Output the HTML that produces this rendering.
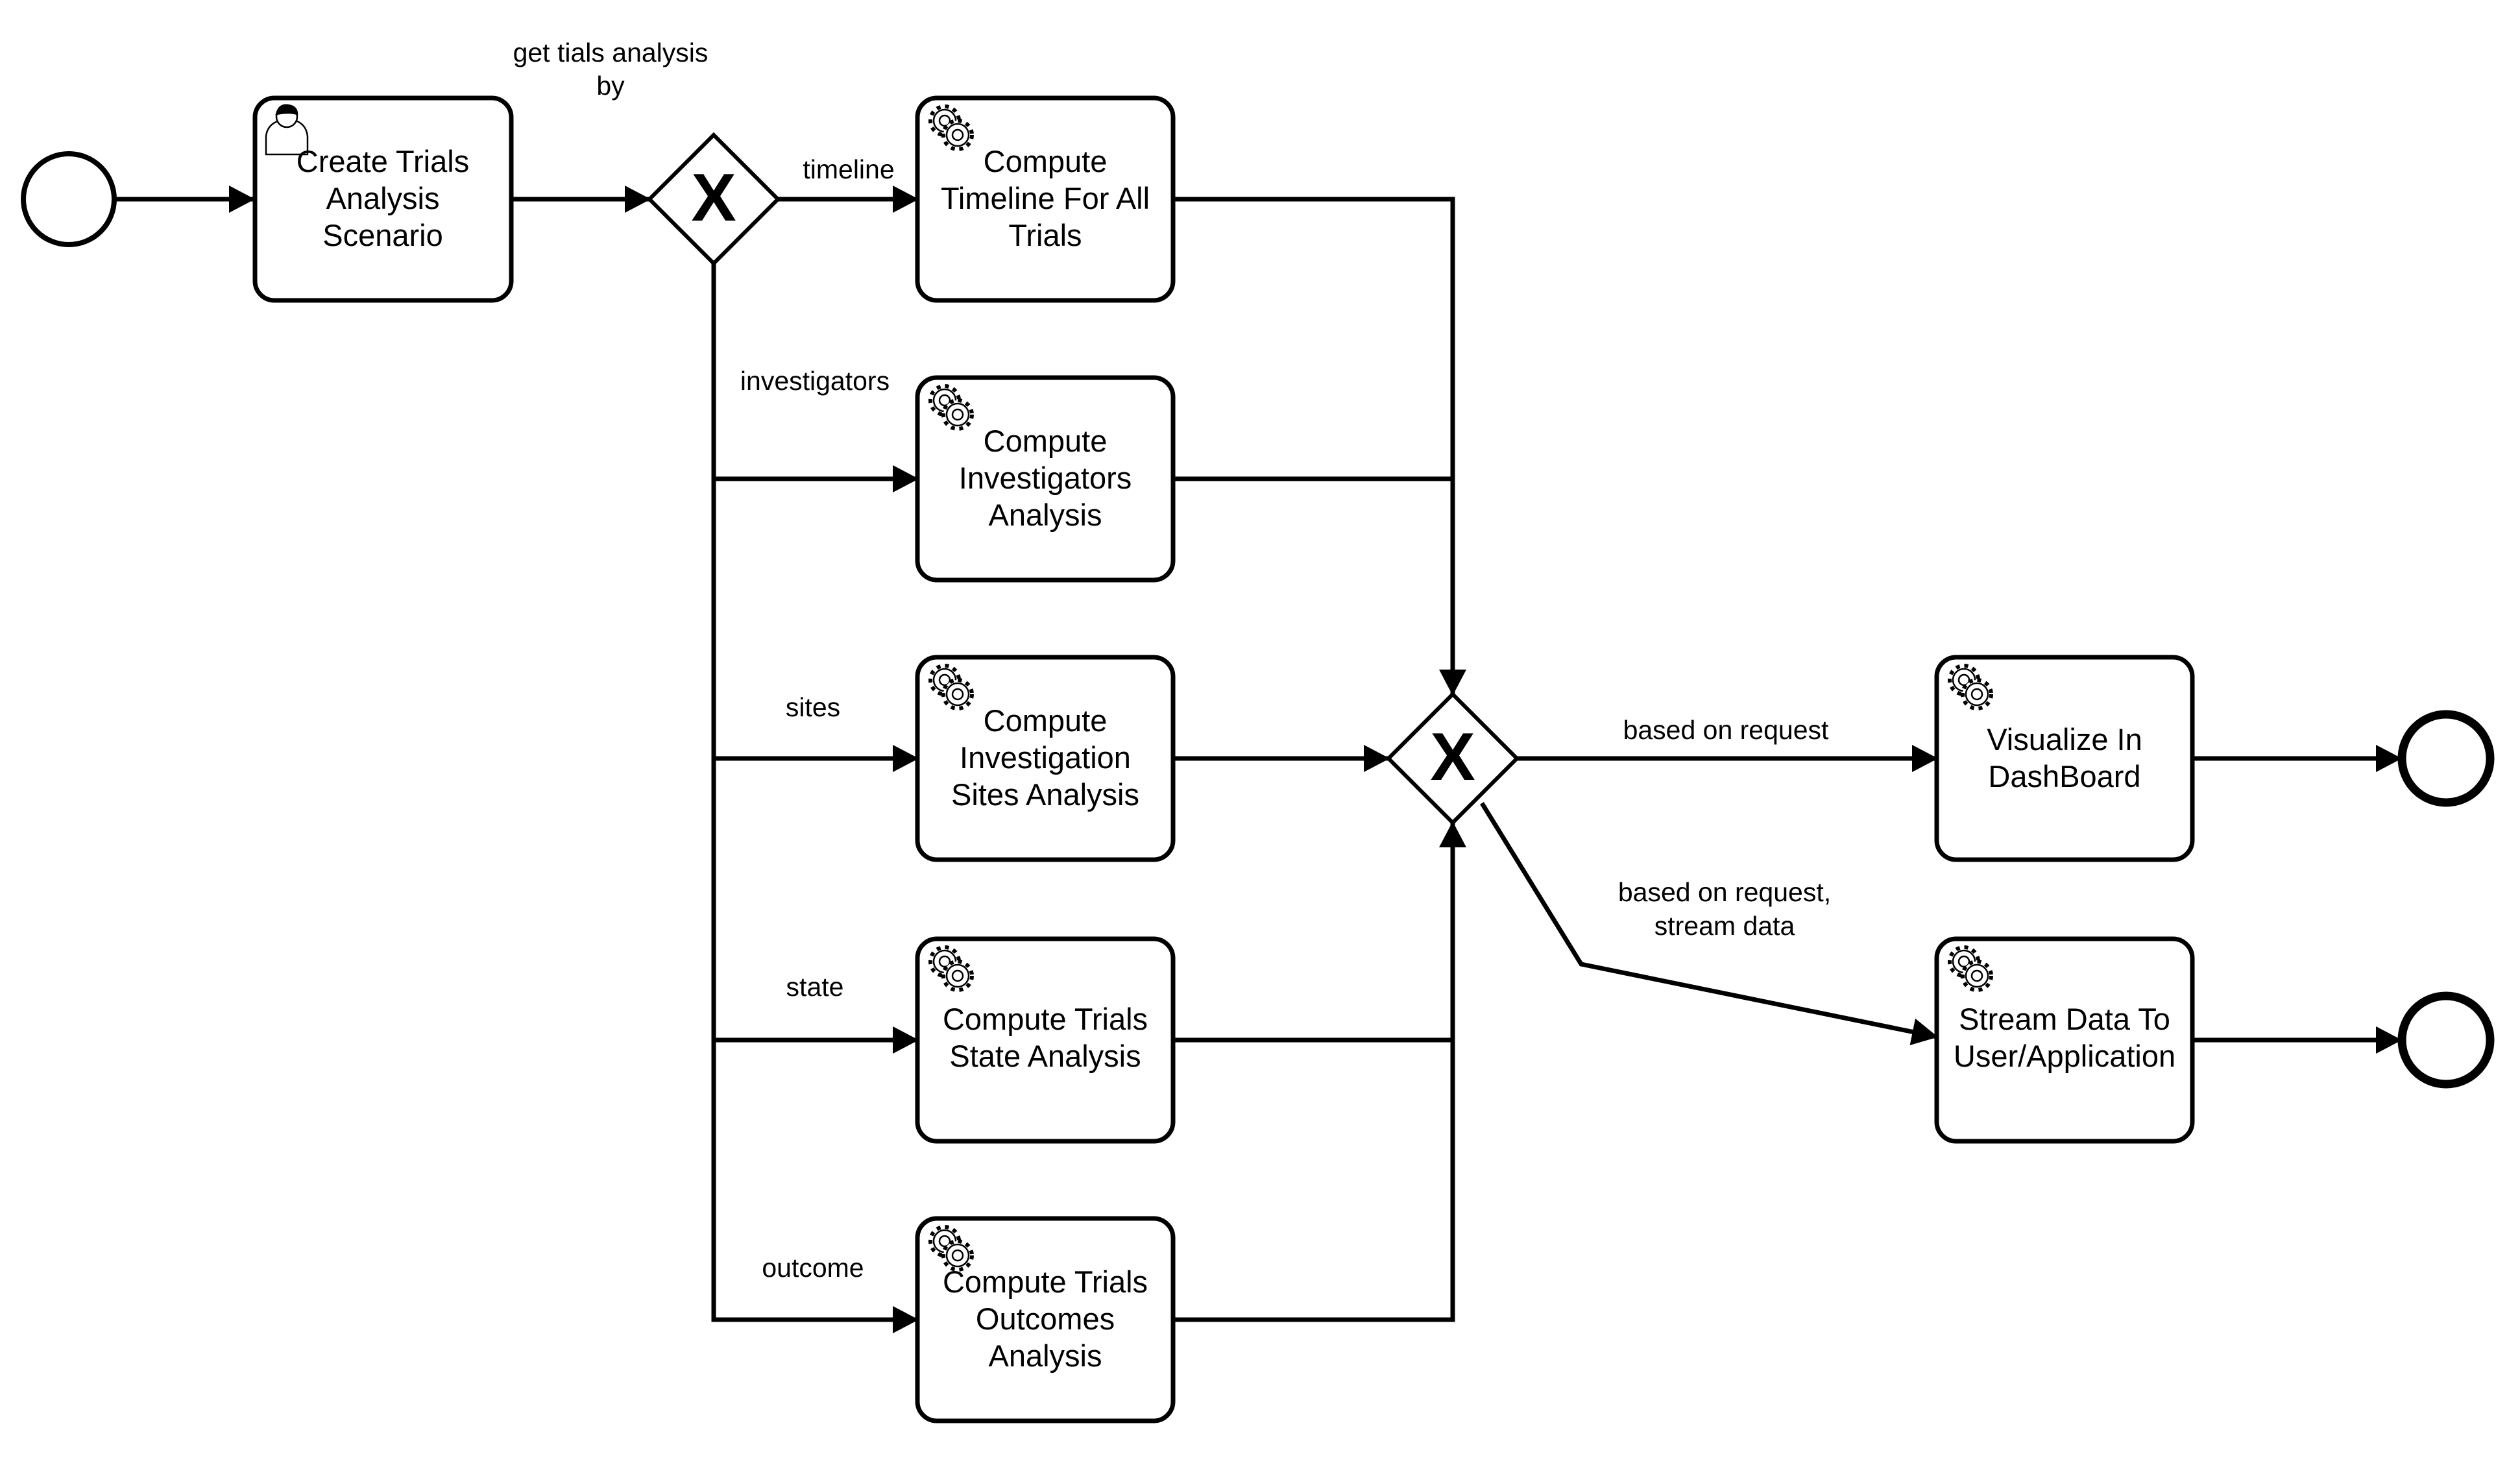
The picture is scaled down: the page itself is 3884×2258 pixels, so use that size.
<!DOCTYPE html>
<html><head><meta charset="utf-8"><style>
html,body{margin:0;padding:0;background:#fff;}
svg{display:block;}
text{font-family:"Liberation Sans",Arial,sans-serif;fill:#000;}
</style></head><body>
<svg width="3884" height="2258" viewBox="0 0 3884 2258" xmlns="http://www.w3.org/2000/svg">
<defs>
<marker id="a" markerUnits="userSpaceOnUse" markerWidth="40" markerHeight="42" refX="38" refY="21" orient="auto">
<path d="M0,0 L40,21 L0,42 Z" fill="#000"/>
</marker>
<g id="gear">
<circle cx="0" cy="0" r="22" fill="#fff" stroke="#000" stroke-width="6" stroke-dasharray="6 7"/>
<circle cx="0" cy="0" r="17" fill="#fff" stroke="#000" stroke-width="2.5"/>
<circle cx="0" cy="0" r="8" fill="none" stroke="#000" stroke-width="2.5"/>
</g>
<g id="gears">
<use href="#gear" x="-10" y="-12"/>
<use href="#gear" x="10" y="10"/>
</g>
</defs>
<g fill="none" stroke="#000" stroke-width="7">
<circle cx="106" cy="307" r="70" stroke-width="8"/>
<line x1="176" y1="307" x2="391" y2="307" marker-end="url(#a)"/>
<rect x="393" y="151" width="395" height="312" rx="30"/>
<line x1="788" y1="307" x2="1001" y2="307" marker-end="url(#a)"/>
<path d="M1100,208 L1199,307 L1100,406 L1001,307 Z" stroke-width="6"/>
<line x1="1199" y1="307" x2="1414" y2="307" marker-end="url(#a)"/>
<path d="M1100,406 L1100,2034 L1414,2034" marker-end="url(#a)"/>
<line x1="1100" y1="738" x2="1414" y2="738" marker-end="url(#a)"/>
<line x1="1100" y1="1169" x2="1414" y2="1169" marker-end="url(#a)"/>
<line x1="1100" y1="1603" x2="1414" y2="1603" marker-end="url(#a)"/>
<rect x="1414" y="151" width="394" height="312" rx="30"/>
<rect x="1414" y="582" width="394" height="312" rx="30"/>
<rect x="1414" y="1013" width="394" height="312" rx="30"/>
<rect x="1414" y="1447" width="394" height="312" rx="30"/>
<rect x="1414" y="1878" width="394" height="312" rx="30"/>
<path d="M1808,307 L2239,307 L2239,1070" marker-end="url(#a)"/>
<line x1="1808" y1="738" x2="2239" y2="738"/>
<line x1="1808" y1="1169" x2="2140" y2="1169" marker-end="url(#a)"/>
<line x1="1808" y1="1603" x2="2239" y2="1603"/>
<path d="M1808,2034 L2239,2034 L2239,1268" marker-end="url(#a)"/>
<path d="M2239,1070 L2338,1169 L2239,1268 L2140,1169 Z" stroke-width="6"/>
<line x1="2338" y1="1169" x2="2985" y2="1169" marker-end="url(#a)"/>
<path d="M2284,1238 L2437,1486 L2985,1598" marker-end="url(#a)"/>
<rect x="2985" y="1013" width="394" height="312" rx="30"/>
<rect x="2985" y="1447" width="394" height="312" rx="30"/>
<line x1="3379" y1="1169" x2="3700" y2="1169" marker-end="url(#a)"/>
<line x1="3379" y1="1603" x2="3700" y2="1603" marker-end="url(#a)"/>
<circle cx="3770" cy="1169" r="68" stroke-width="13"/>
<circle cx="3770" cy="1603" r="68" stroke-width="13"/>
</g>
<text x="1100" y="340" font-size="104" font-weight="bold" text-anchor="middle">X</text>
<text x="2239" y="1202" font-size="104" font-weight="bold" text-anchor="middle">X</text>
<g fill="#fff" stroke="#000" stroke-width="2.5">
<path d="M410,238 L410,210 Q412,192 430,186 L456,186 Q472,192 474,210 L474,238 Z"/>
<circle cx="442" cy="180" r="16"/>
<path d="M426,176 Q430,160 444,162 Q458,164 458,176 Q446,172 426,176 Z" fill="#000"/>
</g>
<use href="#gears" x="1466" y="198"/>
<use href="#gears" x="1466" y="629"/>
<use href="#gears" x="1466" y="1060"/>
<use href="#gears" x="1466" y="1494"/>
<use href="#gears" x="1466" y="1925"/>
<use href="#gears" x="3037" y="1060"/>
<use href="#gears" x="3037" y="1494"/>
<g font-size="47" text-anchor="middle">
<text x="590" y="265">Create Trials</text><text x="590" y="322">Analysis</text><text x="590" y="379">Scenario</text>
<text x="1611" y="265">Compute</text><text x="1611" y="322">Timeline For All</text><text x="1611" y="379">Trials</text>
<text x="1611" y="696">Compute</text><text x="1611" y="753">Investigators</text><text x="1611" y="810">Analysis</text>
<text x="1611" y="1127">Compute</text><text x="1611" y="1184">Investigation</text><text x="1611" y="1241">Sites Analysis</text>
<text x="1611" y="1587">Compute Trials</text><text x="1611" y="1644">State Analysis</text>
<text x="1611" y="1992">Compute Trials</text><text x="1611" y="2049">Outcomes</text><text x="1611" y="2106">Analysis</text>
<text x="3182" y="1156">Visualize In</text><text x="3182" y="1213">DashBoard</text>
<text x="3182" y="1587">Stream Data To</text><text x="3182" y="1644">User/Application</text>
</g>
<g font-size="41" text-anchor="middle">
<text x="941" y="95">get tials analysis</text><text x="941" y="146">by</text>
<text x="1308" y="275">timeline</text>
<text x="1256" y="601">investigators</text>
<text x="1253" y="1104">sites</text>
<text x="1256" y="1535">state</text>
<text x="1253" y="1968">outcome</text>
<text x="2660" y="1139">based on request</text>
<text x="2658" y="1389">based on request,</text>
<text x="2658" y="1441">stream data</text>
</g>
</svg>
</body></html>
